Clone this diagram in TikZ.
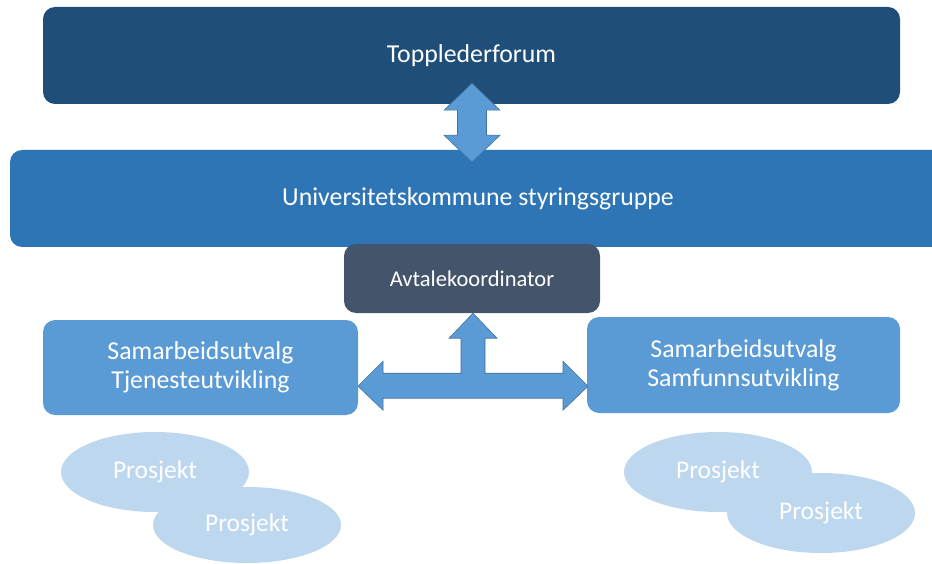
\documentclass[tikz,border=0pt]{standalone}
\usepackage{fontspec}
\setmainfont{Carlito}
\usetikzlibrary{positioning,calc,shapes.geometric}
\definecolor{darkblue}{HTML}{1F4E79}
\definecolor{midblue}{HTML}{2E75B6}
\definecolor{slate}{HTML}{44546A}
\definecolor{lightblue}{HTML}{5B9BD5}
\definecolor{paleblue}{HTML}{BDD7EE}
\definecolor{arrowline}{HTML}{41719C}
\tikzset{
unitbox/.style={rectangle, rounded corners=12pt, text=white, align=center, font=\fontsize{25.8}{29}\selectfont, inner sep=0pt},
projbox/.style={ellipse, fill=paleblue, text=white, font=\fontsize{25.5}{29}\selectfont, minimum width=188pt, minimum height=80pt, inner sep=0pt},
blockarrow/.style={fill=lightblue, draw=arrowline, line width=0.6pt, line join=miter}
}
\begin{document}
\begin{tikzpicture}[x=1pt,y=-1pt]
\useasboundingbox (0,0) rectangle (932,564);

% boxes
\node[unitbox, fill=darkblue, minimum width=857pt, minimum height=97pt] (forum) at (471.5,55.5) {Topplederforum};
\node[unitbox, fill=midblue, minimum width=936pt, minimum height=97pt] (styring) at (478,198.5) {Universitetskommune styringsgruppe};
\node[unitbox, fill=slate, minimum width=256pt, minimum height=69pt, font=\fontsize{22.5}{27}\selectfont] (avtale) at (472,278.5) {Avtalekoordinator};
\node[unitbox, fill=lightblue, minimum width=315pt, minimum height=95pt] (tjeneste) at (200.5,367.5) {Samarbeidsutvalg\\Tjenesteutvikling};
\node[unitbox, fill=lightblue, minimum width=313pt, minimum height=96pt] (samfunn) at (743.5,365) {Samarbeidsutvalg\\Samfunnsutvikling};

% prosjekter
\node[projbox] (proj1) at (155,472) {Prosjekt};
\node[projbox, minimum height=76pt] (proj2) at (247,525) {Prosjekt};
\node[projbox] (proj3) at (718,472) {Prosjekt};
\node[projbox] (proj4) at (821,513) {Prosjekt};

% arrow forum <-> styring
\coordinate (tipA) at ([yshift=21pt, xshift=0.5pt]forum.south);
\draw[blockarrow] (tipA) -- ++(28,27) -- ++(-13.5,0) -- ++(0,25) -- ++(13.5,0) -- ++(-28,27)
  -- ++(-28,-27) -- ++(13.5,0) -- ++(0,-25) -- ++(-13.5,0) -- cycle;

% arrow avtale <-> utvalg
\coordinate (tipB) at ([xshift=1pt]avtale.south);
\draw[blockarrow] (tipB) -- ++(24,25) -- ++(-12,0) -- ++(0,35) -- ++(78,0) -- ++(0,-12)
  -- ++(25,25) -- ++(-25,24) -- ++(0,-12) -- ++(-180,0) -- ++(0,12) -- ++(-25,-24)
  -- ++(25,-25) -- ++(0,12) -- ++(78,0) -- ++(0,-35) -- ++(-12,0) -- cycle;
\end{tikzpicture}
\end{document}
